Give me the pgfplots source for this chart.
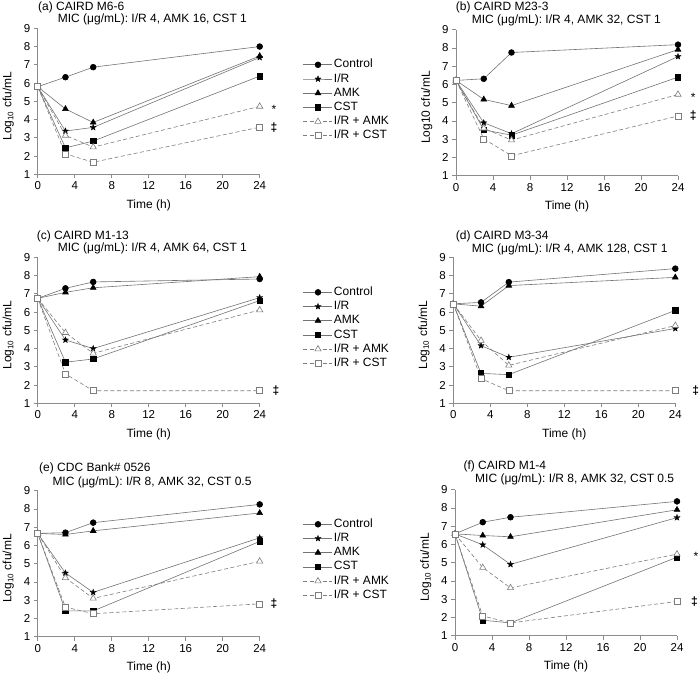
\documentclass[border=0pt]{standalone}
\usepackage{pgfplots}
\pgfplotsset{compat=1.18}
\usepackage{fontspec}
\setmainfont{Liberation Sans}
\usetikzlibrary{plotmarks}

\definecolor{axisgray}{RGB}{140,140,140}
\definecolor{linegray}{RGB}{115,115,115}
\definecolor{opengray}{RGB}{125,125,125}

% filled five-point star
\pgfdeclareplotmark{fstar}{%
  \pgfpathmoveto{\pgfpointpolar{90}{\pgfplotmarksize}}%
  \pgfpathlineto{\pgfpointpolar{126}{0.42\pgfplotmarksize}}%
  \pgfpathlineto{\pgfpointpolar{162}{\pgfplotmarksize}}%
  \pgfpathlineto{\pgfpointpolar{198}{0.42\pgfplotmarksize}}%
  \pgfpathlineto{\pgfpointpolar{234}{\pgfplotmarksize}}%
  \pgfpathlineto{\pgfpointpolar{270}{0.42\pgfplotmarksize}}%
  \pgfpathlineto{\pgfpointpolar{306}{\pgfplotmarksize}}%
  \pgfpathlineto{\pgfpointpolar{342}{0.42\pgfplotmarksize}}%
  \pgfpathlineto{\pgfpointpolar{18}{\pgfplotmarksize}}%
  \pgfpathlineto{\pgfpointpolar{54}{0.42\pgfplotmarksize}}%
  \pgfpathclose
  \pgfusepathqfillstroke}

\newcommand{\txt}{\fontsize{12}{14}\selectfont}

\pgfplotsset{
  panel/.style={
    scale only axis, width=222pt, height=146pt,
    xmin=0, xmax=24, ymin=1, ymax=9,
    xtick={0,4,...,24}, ytick={1,...,9},
    axis x line=bottom, axis y line=left,
    axis line style={axisgray, line width=0.6pt, -},
    tick style={axisgray, line width=0.6pt},
    major tick length=4pt, tick align=outside,
    tick label style={font=\fontsize{11.5}{13}\selectfont},
    /pgf/number format/assume math mode=true,
    every axis x label/.style={at={(axis description cs:0.5,-0.21)},anchor=center,font=\txt},
    every axis y label/.style={at={(axis description cs:-0.132,0.467)},rotate=90,anchor=center,font=\txt},
    xlabel={Time (h)},
    ylabel={Log\textsubscript{10} cfu/mL},
    clip=false,
    legend cell align=left,
    legend style={draw=none, fill=none, anchor=north west, font=\txt,
      row sep=0pt, inner sep=0pt,
      nodes={inner sep=1.2pt, text height=9pt, text depth=2.8pt}},
    legend image code/.code={\draw[mark repeat=2,mark phase=2,##1]
      plot coordinates {(0pt,0pt) (14.5pt,0pt) (29pt,0pt)};},
  },
  ctrl/.style={linegray, line width=0.6pt, mark=*, mark size=2.9pt,
    mark options={fill=black, draw=black, solid}},
  ir/.style={linegray, line width=0.6pt, mark=fstar, mark size=3.2pt,
    mark options={fill=black, draw=black, solid, line width=0.3pt}},
  amk/.style={linegray, line width=0.6pt, mark=triangle*, mark size=3.3pt,
    mark options={fill=black, draw=black, solid}},
  cst/.style={linegray, line width=0.6pt, mark=square*, mark size=2.7pt,
    mark options={fill=black, draw=black, solid}},
  iramk/.style={opengray, line width=0.6pt, dash pattern=on 4pt off 2.5pt,
    mark=triangle*, mark size=3.6pt,
    mark options={fill=white, draw=opengray, solid}},
  ircst/.style={opengray, line width=0.6pt, dash pattern=on 4pt off 2.5pt,
    mark=square*, mark size=3pt,
    mark options={fill=white, draw=opengray, solid}},
}

\newcommand{\dd}{\textbf{‡}}

\begin{document}
\begin{tikzpicture}
\path[use as bounding box] (0,0) rectangle (700pt,674pt);

% ---------- (a)
\begin{axis}[panel, at={(37.7pt,499.7pt)}, anchor=south west,
  legend style={at={(axis description cs:1.195,0.80)}}]
\addplot[ctrl] coordinates {(0,5.8) (3,6.32) (6,6.87) (24,8.0)};
\addplot[ir] coordinates {(0,5.8) (3,3.37) (6,3.57) (24,7.4)};
\addplot[amk] coordinates {(0,5.8) (3,4.58) (6,3.84) (24,7.48)};
\addplot[cst] coordinates {(0,5.8) (3,2.45) (6,2.82) (24,6.38)};
\addplot[iramk] coordinates {(0,5.8) (3,3.13) (6,2.49) (24,4.72)};
\addplot[ircst] coordinates {(0,5.8) (3,2.12) (6,1.66) (24,3.58)};
\legend{Control, I/R, AMK, CST, I/R + AMK, I/R + CST}
\node[font=\txt, yshift=-2.5pt] at (axis cs:25.55,4.72) {*};
\node[font=\txt] at (axis cs:25.55,3.58) {\dd};
\end{axis}

% ---------- (b)
\begin{axis}[panel, at={(456pt,498.3pt)}, anchor=south west,
  ylabel={Log10 cfu/mL}]
\addplot[ctrl] coordinates {(0,6.22) (3,6.31) (6,7.75) (24,8.18)};
\addplot[ir] coordinates {(0,6.22) (3,3.9) (6,3.3) (24,7.53)};
\addplot[amk] coordinates {(0,6.22) (3,5.18) (6,4.84) (24,7.91)};
\addplot[cst] coordinates {(0,6.22) (3,3.51) (6,3.22) (24,6.4)};
\addplot[iramk] coordinates {(0,6.22) (3,3.6) (6,2.95) (24,5.45)};
\addplot[ircst] coordinates {(0,6.22) (3,3.02) (6,2.09) (24,4.27)};
\node[font=\txt, yshift=-2.5pt] at (axis cs:25.65,5.45) {*};
\node[font=\txt] at (axis cs:25.65,4.27) {\dd};
\end{axis}

% ---------- (c)
\begin{axis}[panel, at={(37.7pt,270.7pt)}, anchor=south west,
  legend style={at={(axis description cs:1.195,0.81)}}]
\addplot[ctrl] coordinates {(0,6.75) (3,7.3) (6,7.65) (24,7.81)};
\addplot[ir] coordinates {(0,6.75) (3,4.47) (6,4.0) (24,6.79)};
\addplot[amk] coordinates {(0,6.75) (3,7.08) (6,7.33) (24,7.94)};
\addplot[cst] coordinates {(0,6.75) (3,3.25) (6,3.43) (24,6.63)};
\addplot[iramk] coordinates {(0,6.75) (3,4.87) (6,3.74) (24,6.11)};
\addplot[ircst] coordinates {(0,6.75) (3,2.61) (6,1.69) (24,1.69)};
\legend{Control, I/R, AMK, CST, I/R + AMK, I/R + CST}
\node[font=\txt] at (axis cs:25.77,1.69) {\dd};
\end{axis}

% ---------- (d)
\begin{axis}[panel, at={(453.3pt,270.7pt)}, anchor=south west]
\addplot[ctrl] coordinates {(0,6.45) (3,6.53) (6,7.64) (24,8.38)};
\addplot[ir] coordinates {(0,6.45) (3,4.16) (6,3.52) (24,5.1)};
\addplot[amk] coordinates {(0,6.45) (3,6.32) (6,7.45) (24,7.9)};
\addplot[cst] coordinates {(0,6.45) (3,2.64) (6,2.57) (24,6.09)};
\addplot[iramk] coordinates {(0,6.45) (3,4.44) (6,3.08) (24,5.26)};
\addplot[ircst] coordinates {(0,6.45) (3,2.35) (6,1.69) (24,1.69)};
\node[font=\txt] at (axis cs:26.2,1.69) {\dd};
\end{axis}

% ---------- (e)
\begin{axis}[panel, at={(37.7pt,37.3pt)}, anchor=south west,
  legend style={at={(axis description cs:1.195,0.82)}}]
\addplot[ctrl] coordinates {(0,6.66) (3,6.7) (6,7.25) (24,8.25)};
\addplot[ir] coordinates {(0,6.66) (3,4.49) (6,3.43) (24,6.42)};
\addplot[amk] coordinates {(0,6.66) (3,6.6) (6,6.8) (24,7.78)};
\addplot[cst] coordinates {(0,6.66) (3,2.42) (6,2.41) (24,6.22)};
\addplot[iramk] coordinates {(0,6.66) (3,4.23) (6,3.1) (24,5.13)};
\addplot[ircst] coordinates {(0,6.66) (3,2.62) (6,2.26) (24,2.8)};
\legend{Control, I/R, AMK, CST, I/R + AMK, I/R + CST}
\node[font=\txt] at (axis cs:25.55,2.8) {\dd};
\end{axis}

% ---------- (f)
\begin{axis}[panel, at={(455pt,38.3pt)}, anchor=south west]
\addplot[ctrl] coordinates {(0,6.58) (3,7.22) (6,7.49) (24,8.36)};
\addplot[ir] coordinates {(0,6.58) (3,5.98) (6,4.91) (24,7.47)};
\addplot[amk] coordinates {(0,6.58) (3,6.49) (6,6.42) (24,7.9)};
\addplot[cst] coordinates {(0,6.58) (3,1.85) (6,1.7) (24,5.3)};
\addplot[iramk] coordinates {(0,6.58) (3,4.73) (6,3.62) (24,5.47)};
\addplot[ircst] coordinates {(0,6.58) (3,2.08) (6,1.7) (24,2.88)};
\node[font=\txt, yshift=-2.5pt] at (axis cs:26.05,5.47) {*};
\node[font=\txt] at (axis cs:25.9,2.88) {\dd};
\end{axis}

% ---------- titles
\begin{scope}[every node/.style={font=\txt, anchor=base west, inner sep=0pt}]
\node at (38pt,663.4pt) {(a) CAIRD M6-6};
\node at (57.7pt,651pt) {MIC (μg/mL): I/R 4, AMK 16, CST 1};
\node at (455.7pt,663.7pt) {(b) CAIRD M23-3};
\node at (471.7pt,650.4pt) {MIC (μg/mL): I/R 4, AMK 32, CST 1};
\node at (36.7pt,434.4pt) {(c) CAIRD M1-13};
\node at (57.7pt,422pt) {MIC (μg/mL): I/R 4, AMK 64, CST 1};
\node at (455.7pt,434.4pt) {(d) CAIRD M3-34};
\node at (471.7pt,421.4pt) {MIC (μg/mL): I/R 4, AMK 128, CST 1};
\node at (39pt,202pt) {(e) CDC Bank\# 0526};
\node at (52.3pt,188.7pt) {MIC (μg/mL): I/R 8, AMK 32, CST 0.5};
\node at (463.3pt,204.4pt) {(f) CAIRD M1-4};
\node at (475pt,191.4pt) {MIC (μg/mL): I/R 8, AMK 32, CST 0.5};
\end{scope}
\end{tikzpicture}
\end{document}
